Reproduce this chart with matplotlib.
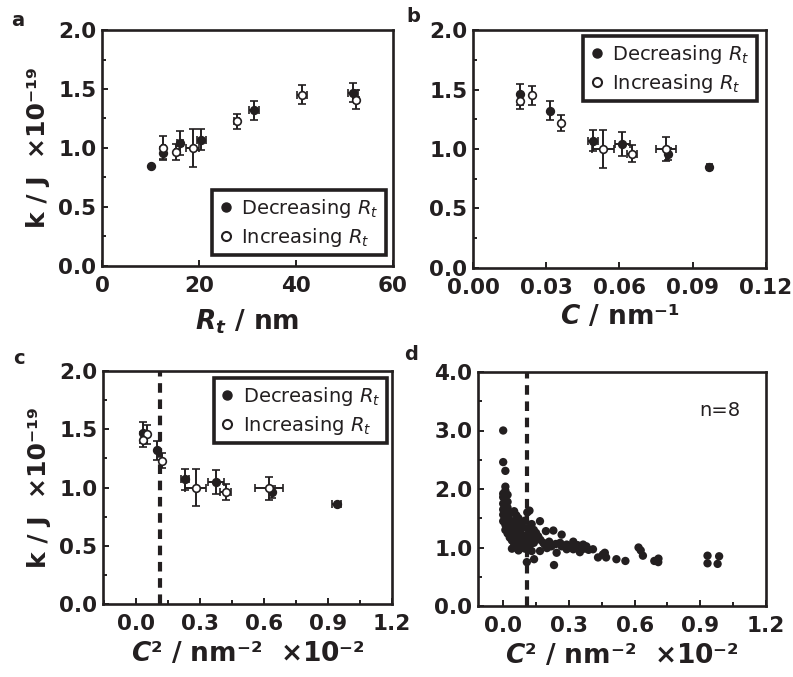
import matplotlib
matplotlib.use("Agg")
import matplotlib.pyplot as plt
from matplotlib.lines import Line2D
from matplotlib.ticker import MultipleLocator, FormatStrFormatter

# ---------------- data ----------------
# panel a : k vs R_t
a_dec_R = [10.2, 12.5, 16.1, 20.5, 31.3, 51.8]
a_dec_k = [0.85, 0.955, 1.04, 1.07, 1.32, 1.47]
a_dec_kerr = [0.0, 0.05, 0.10, 0.09, 0.08, 0.08]
a_dec_Rerr = [0.0, 0.0, 0.7, 1.0, 1.0, 1.0]
a_inc_R = [12.6, 15.3, 18.7, 27.8, 41.2, 52.4]
a_inc_k = [1.00, 0.965, 1.00, 1.225, 1.45, 1.41]
a_inc_kerr = [0.10, 0.07, 0.16, 0.065, 0.08, 0.08]
a_inc_Rerr = [0.3, 0.3, 1.4, 0.5, 1.0, 0.5]

# panel b : k vs C
b_dec_C = [0.0968, 0.0799, 0.0612, 0.0490, 0.0317, 0.0194]
b_dec_k = [0.85, 0.955, 1.04, 1.07, 1.32, 1.46]
b_dec_kerr = [0.0, 0.05, 0.10, 0.09, 0.08, 0.09]
b_dec_Cerr = [0.001, 0.0, 0.003, 0.002, 0.0, 0.0]
b_inc_C = [0.0790, 0.0650, 0.0533, 0.0360, 0.0243, 0.0194]
b_inc_k = [1.00, 0.96, 1.00, 1.22, 1.45, 1.40]
b_inc_kerr = [0.10, 0.07, 0.16, 0.065, 0.08, 0.065]
b_inc_Cerr = [0.0042, 0.002, 0.0044, 0.0, 0.0, 0.0]

# panel c : k vs C^2 (x 1e-2)
c_dec_C2 = [0.94, 0.636, 0.375, 0.23, 0.097, 0.034]
c_dec_k = [0.855, 0.96, 1.046, 1.07, 1.32, 1.47]
c_dec_kerr = [0.0, 0.05, 0.10, 0.09, 0.08, 0.09]
c_dec_C2err = [0.023, 0.0, 0.037, 0.02, 0.0, 0.0]
c_inc_C2 = [0.625, 0.42, 0.28, 0.123, 0.053, 0.034]
c_inc_k = [0.994, 0.96, 0.997, 1.23, 1.457, 1.41]
c_inc_kerr = [0.10, 0.07, 0.16, 0.065, 0.08, 0.065]
c_inc_C2err = [0.066, 0.025, 0.05, 0.0, 0.0, 0.0]
threshold_C2 = 0.11

# panel d : all individual measurements, k vs C^2 (x 1e-2)
d_C2 = [0.00, 0.00, 0.01, 0.01, 0.01, 0.00, 0.02, 0.00, 0.01, 0.02, 0.00, 0.01,
        0.02, 0.00, 0.01, 0.03, 0.00, 0.02, 0.01, 0.03, 0.00, 0.02, 0.01, 0.03,
        0.02, 0.01, 0.03, 0.02, 0.04, 0.03, 0.04, 0.05, 0.06, 0.04,
        0.05, 0.06, 0.07, 0.05, 0.08, 0.06, 0.09, 0.07, 0.05, 0.08, 0.06, 0.09,
        0.07, 0.10, 0.08, 0.06, 0.09, 0.07,
        0.11, 0.12, 0.10, 0.13, 0.11, 0.14, 0.12, 0.10, 0.13, 0.15, 0.11, 0.14,
        0.12, 0.10, 0.13, 0.108, 0.141,
        0.168, 0.15, 0.16, 0.183, 0.17, 0.195, 0.229, 0.22, 0.19, 0.168, 0.21,
        0.24, 0.232, 0.244, 0.20,
        0.267, 0.267, 0.26, 0.29, 0.29, 0.31, 0.32, 0.32, 0.34, 0.35, 0.365,
        0.37, 0.38, 0.39,
        0.41, 0.433, 0.455, 0.464, 0.47, 0.517, 0.558, 0.618, 0.638, 0.628,
        0.69, 0.709, 0.708,
        0.933, 0.933, 0.986, 0.979]
d_k = [3.00, 2.46, 2.31, 2.04, 1.97, 1.92, 1.90, 1.86, 1.82, 1.78, 1.75, 1.71,
       1.68, 1.65, 1.61, 1.58, 1.56, 1.53, 1.50, 1.47, 1.45, 1.42, 1.39, 1.36,
       1.33, 1.30, 1.27, 1.24, 1.21, 1.17, 1.12, 1.07, 1.02, 0.98,
       1.62, 1.55, 1.50, 1.44, 1.42, 1.37, 1.34, 1.30, 1.28, 1.24, 1.20, 1.18,
       1.14, 1.11, 1.07, 1.04, 1.00, 0.95,
       1.60, 1.63, 1.46, 1.40, 1.33, 1.30, 1.25, 1.20, 1.17, 1.15, 1.12, 1.08,
       1.03, 0.98, 0.94, 0.75, 0.80,
       1.45, 1.25, 1.19, 1.08, 1.13, 1.28, 1.29, 1.02, 1.05, 0.94, 1.10,
       1.06, 0.70, 0.91, 0.99,
       1.22, 1.02, 1.08, 1.05, 0.97, 1.03, 1.10, 0.97, 1.04, 0.92, 1.05,
       0.98, 1.02, 0.96,
       0.97, 0.83, 0.88, 0.91, 0.83, 0.80, 0.77, 1.00, 0.86, 0.95,
       0.77, 0.81, 0.75,
       0.86, 0.73, 0.85, 0.72]
d_n_label = "n=8"

# ---------------- style ----------------
INK = "#231f20"
plt.rcParams["font.family"] = ["DejaVu Sans"]
plt.rcParams["mathtext.fontset"] = "dejavusans"

fig = plt.figure(figsize=(7.93, 6.77), dpi=100)
W, H = 793, 677


def make_ax(l, r, t, b):
    return fig.add_axes([l / W, 1 - b / H, (r - l) / W, (b - t) / H])


ax_a = make_ax(102, 393, 30, 266)
ax_b = make_ax(473, 766, 30, 268)
ax_c = make_ax(103, 392, 371, 604)
ax_d = make_ax(478, 766, 372, 606)

TICK_FS = 15.5
LABEL_FS = 19
YLAB_FS = 18
LEG_FS = 14


def style(ax):
    for s in ax.spines.values():
        s.set_linewidth(1.9)
        s.set_color(INK)
    ax.tick_params(axis="both", which="both", direction="in", colors=INK,
                   labelsize=TICK_FS, width=1.4, top=False, right=False)
    ax.tick_params(axis="both", which="major", length=4.5)
    ax.tick_params(axis="both", which="minor", length=3)
    ax.tick_params(axis="x", pad=7.5)
    ax.tick_params(axis="y", pad=4)
    for lab in ax.get_xticklabels() + ax.get_yticklabels():
        lab.set_fontweight("bold")


def err_series(ax, x, y, xerr, yerr, filled):
    ax.errorbar(x, y, xerr=xerr, yerr=yerr, fmt="o", ms=5.5,
                mfc=INK if filled else "white", mec=INK, mew=1.2,
                ecolor=INK, elinewidth=1.4, capsize=2.6, capthick=1.4,
                zorder=3 if filled else 4)


def add_legend(ax, loc, anchor):
    handles = [Line2D([], [], ls="none", marker="o", ms=6.5, mfc=INK, mec=INK),
               Line2D([], [], ls="none", marker="o", ms=6.5, mfc="white", mec=INK, mew=1.5)]
    labels = [r"Decreasing $R_t$", r"Increasing $R_t$"]
    leg = ax.legend(handles, labels, loc=loc, bbox_to_anchor=anchor,
                    fontsize=LEG_FS, frameon=True, fancybox=False,
                    framealpha=1, edgecolor=INK, handlelength=0.7,
                    handletextpad=0.45, labelspacing=0.3, borderpad=0.35,
                    borderaxespad=0)
    leg.get_frame().set_linewidth(2.6)
    for t in leg.get_texts():
        t.set_color(INK)
    return leg


ylab = "k / J  ×10⁻¹⁹"

# ---- panel a ----
err_series(ax_a, a_dec_R, a_dec_k, a_dec_Rerr, a_dec_kerr, True)
err_series(ax_a, a_inc_R, a_inc_k, a_inc_Rerr, a_inc_kerr, False)
ax_a.set_xlim(0, 60)
ax_a.set_ylim(0, 2.0)
ax_a.xaxis.set_major_locator(MultipleLocator(20))
ax_a.yaxis.set_major_locator(MultipleLocator(0.5))
ax_a.yaxis.set_minor_locator(MultipleLocator(0.25))
ax_a.yaxis.set_major_formatter(FormatStrFormatter("%.1f"))
ax_a.set_xlabel(r"$\mathbfit{R_t}$ / nm", fontsize=LABEL_FS, fontweight="bold", color=INK, labelpad=8)
ax_a.set_ylabel(ylab, fontsize=YLAB_FS, fontweight="bold", color=INK, labelpad=6)
add_legend(ax_a, "lower right", (0.975, 0.045))
style(ax_a)

# ---- panel b ----
err_series(ax_b, b_dec_C, b_dec_k, b_dec_Cerr, b_dec_kerr, True)
err_series(ax_b, b_inc_C, b_inc_k, b_inc_Cerr, b_inc_kerr, False)
ax_b.set_xlim(0, 0.12)
ax_b.set_ylim(0, 2.0)
ax_b.xaxis.set_major_locator(MultipleLocator(0.03))
ax_b.xaxis.set_major_formatter(FormatStrFormatter("%.2f"))
ax_b.yaxis.set_major_locator(MultipleLocator(0.5))
ax_b.yaxis.set_minor_locator(MultipleLocator(0.25))
ax_b.yaxis.set_major_formatter(FormatStrFormatter("%.1f"))
ax_b.set_xlabel(r"$\mathbfit{C}$ / nm⁻¹", fontsize=LABEL_FS, fontweight="bold", color=INK, labelpad=4)
add_legend(ax_b, "upper right", (0.968, 0.975))
style(ax_b)

# ---- panel c ----
ax_c.axvline(threshold_C2, color=INK, lw=3.0, dashes=(2.3, 1.6), zorder=2)
err_series(ax_c, c_dec_C2, c_dec_k, c_dec_C2err, c_dec_kerr, True)
err_series(ax_c, c_inc_C2, c_inc_k, c_inc_C2err, c_inc_kerr, False)
ax_c.set_xlim(-0.155, 1.2)
ax_c.set_ylim(0, 2.0)
ax_c.xaxis.set_major_locator(MultipleLocator(0.3))
ax_c.xaxis.set_minor_locator(MultipleLocator(0.15))
ax_c.xaxis.set_major_formatter(FormatStrFormatter("%.1f"))
ax_c.yaxis.set_major_locator(MultipleLocator(0.5))
ax_c.yaxis.set_minor_locator(MultipleLocator(0.25))
ax_c.yaxis.set_major_formatter(FormatStrFormatter("%.1f"))
c2lab = r"$\mathbfit{C}$² / nm⁻²  ×10⁻²"
ax_c.set_xlabel(c2lab, fontsize=LABEL_FS, fontweight="bold", color=INK, labelpad=5)
ax_c.set_ylabel(ylab, fontsize=YLAB_FS, fontweight="bold", color=INK, labelpad=6)
add_legend(ax_c, "upper right", (0.983, 0.97))
style(ax_c)

# ---- panel d ----
ax_d.axvline(threshold_C2, color=INK, lw=3.0, dashes=(2.3, 1.6), zorder=2)
ax_d.scatter(d_C2, d_k, s=36, color=INK, edgecolors="none", zorder=3)
ax_d.set_xlim(-0.115, 1.2)
ax_d.set_ylim(0, 4.0)
ax_d.xaxis.set_major_locator(MultipleLocator(0.3))
ax_d.xaxis.set_minor_locator(MultipleLocator(0.15))
ax_d.xaxis.set_major_formatter(FormatStrFormatter("%.1f"))
ax_d.yaxis.set_major_locator(MultipleLocator(1.0))
ax_d.yaxis.set_minor_locator(MultipleLocator(0.5))
ax_d.yaxis.set_major_formatter(FormatStrFormatter("%.1f"))
ax_d.set_xlabel(c2lab, fontsize=LABEL_FS, fontweight="bold", color=INK, labelpad=5)
ax_d.text(0.99, 3.34, d_n_label, fontsize=14, color=INK, ha="center", va="center")
style(ax_d)

# ---- panel letters ----
for letter, (px, py) in {"a": (18, 20), "b": (413, 17), "c": (19, 358), "d": (411, 355)}.items():
    fig.text(px / W, 1 - py / H, letter, fontsize=14, fontweight="bold",
             color=INK, ha="center", va="center")

fig.savefig("out.png", dpi=100)
